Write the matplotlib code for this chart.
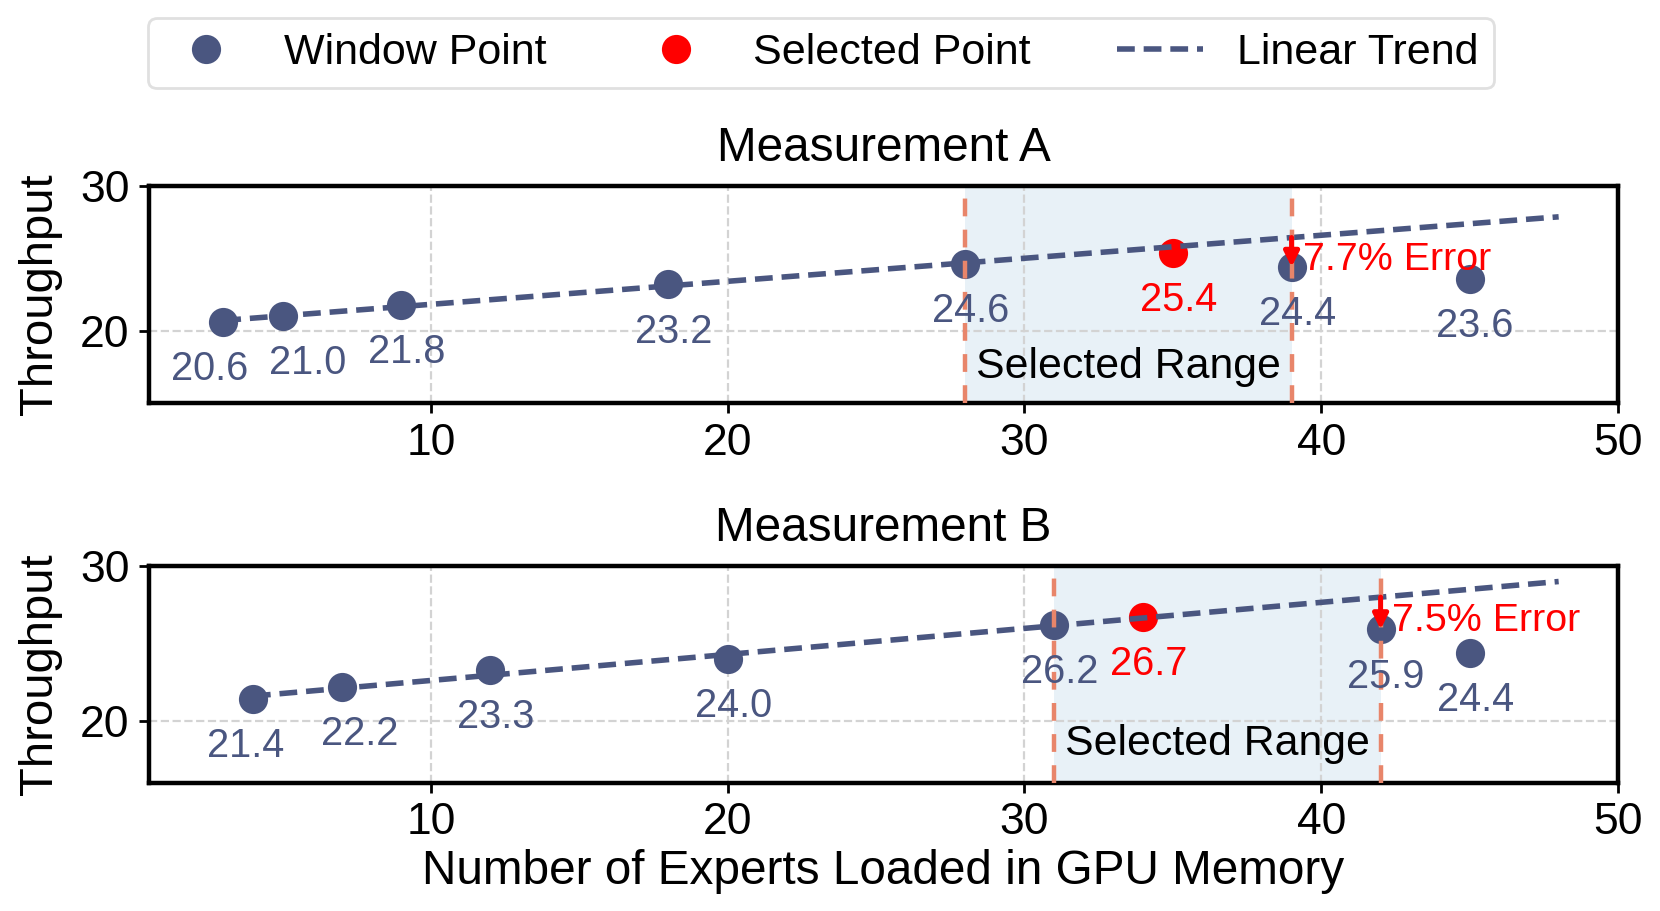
import numpy as np
import matplotlib
matplotlib.use("Agg")
import matplotlib.pyplot as plt
from matplotlib.lines import Line2D

plt.rcParams['font.family'] = ['Liberation Sans', 'DejaVu Sans']

# ---- data ----
titles = ["Measurement A", "Measurement B"]
a_x = [3, 5, 9, 18, 28, 39, 45]
a_y = [20.6, 21.0, 21.8, 23.2, 24.6, 24.4, 23.6]
a_sel_x = 35
a_sel_y = 25.4
a_range = (28, 39)
a_fit_n = 5          # window points used for the trend fit
a_err_label = "7.7% Error"

b_x = [4, 7, 12, 20, 31, 42, 45]
b_y = [21.4, 22.2, 23.3, 24.0, 26.2, 25.9, 24.4]
b_sel_x = 34
b_sel_y = 26.7
b_range = (31, 42)
b_fit_n = 5
b_err_label = "7.5% Error"

trend_end = 48
ylims = [(15, 30), (16, 30)]
xlim = (0.5, 50)

# label nudges (points) for crowded labels, style only
nudges = [{0: -7, 1: 7}, {0: -4.5, 1: 4.5}]

NAVY = '#4a5680'
RED = '#ff0000'
SALMON = '#e8856a'
SHADE = '#e8f1f7'
DASH = (0, (3.2, 1.6))

fig, axes = plt.subplots(2, 1, figsize=(8.3, 4.555), dpi=200)
fig.subplots_adjust(left=0.0898, right=0.9747, top=0.7958, bottom=0.1405, hspace=0.75)

datasets = [
    (a_x, a_y, a_sel_x, a_sel_y, a_range, a_fit_n, a_err_label),
    (b_x, b_y, b_sel_x, b_sel_y, b_range, b_fit_n, b_err_label),
]

for i, (ax, ds) in enumerate(zip(axes, datasets)):
    xs, ys, sx, sy, rng, nfit, elab = ds
    xs = np.array(xs, dtype=float)
    ys = np.array(ys, dtype=float)
    ax.set_xlim(*xlim)
    ax.set_ylim(*ylims[i])

    # selected range
    ax.axvspan(rng[0], rng[1], color=SHADE, zorder=0.5, lw=0)
    for xv in rng:
        ax.axvline(xv, color=SALMON, ls=(0, (4, 3)), lw=1.6, zorder=4)
    ymin = ylims[i][0]
    ax.text((rng[0] + rng[1]) / 2, ymin + 2.5, "Selected Range", ha='center', va='center',
            fontsize=15.4, color='black', zorder=6)

    # points
    ax.plot(xs, ys, 'o', color=NAVY, ms=9.5, zorder=3, ls='none')
    ax.plot([sx], [sy], 'o', color=RED, ms=9.5, zorder=3, ls='none')

    # trend
    coef = np.polyfit(xs[:nfit], ys[:nfit], 1)
    tx = np.array([xs[0], trend_end])
    ax.plot(tx, np.polyval(coef, tx), color=NAVY, ls=DASH, lw=2, zorder=3.5)

    # value labels
    for j, (x, y) in enumerate(zip(xs, ys)):
        dx = 2 + nudges[i].get(j, 0)
        ax.annotate(f"{y:.1f}", (x, y), xytext=(dx, -17), textcoords='offset points',
                    ha='center', va='center', fontsize=14.3, color=NAVY, zorder=5)
    ax.annotate(f"{sy:.1f}", (sx, sy), xytext=(2, -17), textcoords='offset points',
                ha='center', va='center', fontsize=14.3, color=RED, zorder=5)

    # error arrow at range end
    ex = rng[1]
    ey = ys[list(xs).index(ex)]
    ly = np.polyval(coef, ex)
    ax.annotate("", xy=(ex, ey), xytext=(ex, ly),
                arrowprops=dict(arrowstyle='-|>', color=RED, lw=1.8, mutation_scale=11,
                                shrinkA=0, shrinkB=0), zorder=6)
    ax.annotate(elab, (ex + 0.4, (ey + ly) / 2), xytext=(0, -2.8), textcoords='offset points',
                color=RED, fontsize=14.2, ha='left', va='center', zorder=6)

    ax.set_title(titles[i], fontsize=17.2, pad=9)
    ax.set_ylabel("Throughput", fontsize=17, labelpad=6.5)
    ax.set_xticks([10, 20, 30, 40, 50])
    ax.set_yticks([20, 30])
    ax.grid(True, color='#d3d3d3', ls='--', lw=0.8, zorder=0)
    ax.set_axisbelow(True)
    ax.tick_params(labelsize=16, length=3.5, width=1.0, direction='out')
    for sp in ax.spines.values():
        sp.set_linewidth(1.6)
        sp.set_color('black')

axes[1].set_xlabel("Number of Experts Loaded in GPU Memory", fontsize=17.2, labelpad=2)

handles = [
    Line2D([], [], marker='o', color=NAVY, ls='none', ms=9.5),
    Line2D([], [], marker='o', color=RED, ls='none', ms=9.5),
    Line2D([], [], color=NAVY, ls=DASH, lw=2),
]
fig.legend(handles, ["Window Point", "Selected Point", "Linear Trend"], loc='upper center',
           bbox_to_anchor=(0.4946, 0.980), ncol=3, fontsize=15.5, frameon=True,
           edgecolor='#d9d9d9', fancybox=True, columnspacing=2.0, handletextpad=0.8,
           handlelength=2.0, borderpad=0.35, borderaxespad=0)

fig.savefig("out.png", dpi=200)
